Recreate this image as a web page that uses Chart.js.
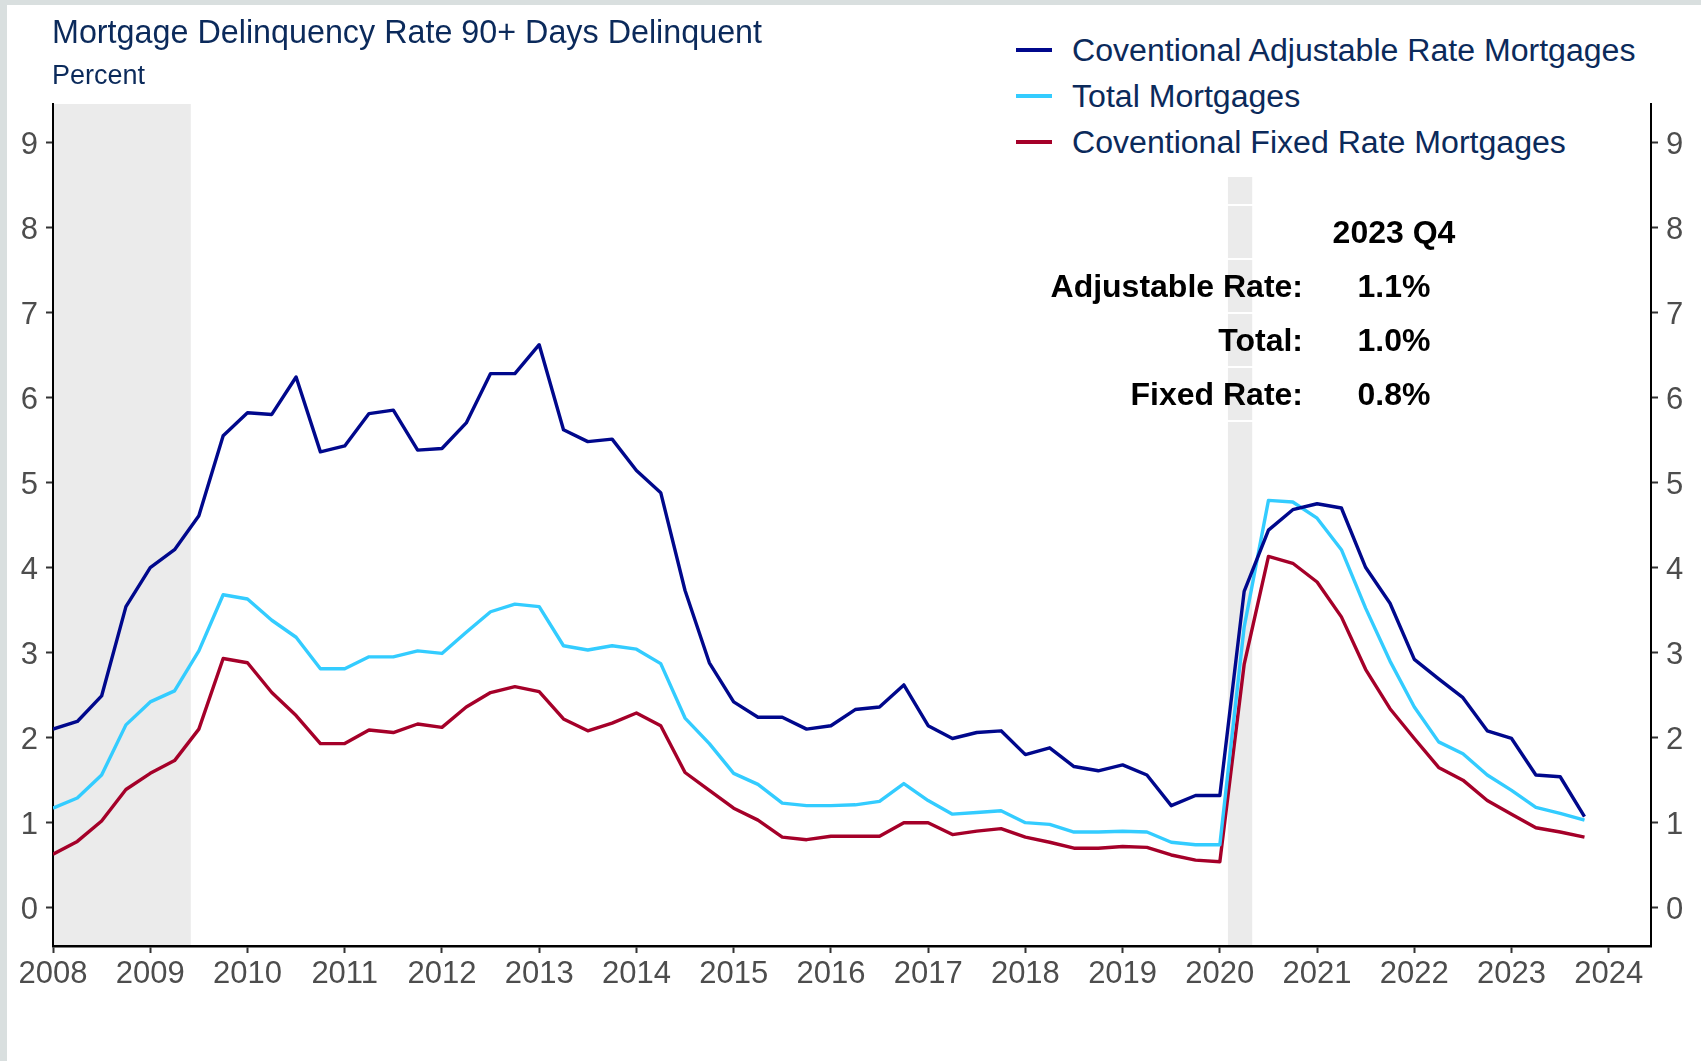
<!DOCTYPE html>
<html lang="en">
<head>
<meta charset="utf-8">
<title>Mortgage Delinquency Rate 90+ Days Delinquent</title>
<script src="https://cdn.jsdelivr.net/npm/chart.js@4.4.1/dist/chart.umd.min.js"></script>
<style>
  html, body { margin: 0; padding: 0; }
  body {
    width: 1701px; height: 1061px; overflow: hidden; position: relative;
    background: #d9dfdf;
    font-family: "Liberation Sans", Arial, sans-serif;
  }
  #panel { position: absolute; left: 7px; top: 5px; right: 0; bottom: 0; background: #fff; }
  #chart { position: absolute; left: 0; top: 0; }
  .title { position: absolute; left: 52px; top: 16px; font-size: 32.3px; line-height: 32px; color: #0b2a5b; white-space: nowrap; }
  .subtitle { position: absolute; left: 52px; top: 62px; font-size: 27px; line-height: 27px; color: #0b2a5b; white-space: nowrap; }
  #legend { position: absolute; left: 1000px; top: 5px; width: 650px; height: 172px; background: #fff; }
  .leg-row { position: absolute; left: 16px; height: 32px; font-size: 32.1px; line-height: 32px; color: #0b2a5b; white-space: nowrap; }
  .leg-key { position: absolute; left: 0; top: 14px; width: 36px; height: 4px; }
  .leg-text { position: absolute; left: 56px; top: 0; }
  #note { position: absolute; left: 1000px; top: 204px; width: 500px; }
  .note-row {
    position: absolute; left: 0; width: 500px; height: 54px; box-sizing: border-box;
    border-top: 2px solid #fff;
    font-weight: bold; font-size: 32px; line-height: 52px; color: #000; white-space: nowrap;
  }
  .note-row.last { height: 56px; border-bottom: 2px solid #fff; }
  .lab { position: absolute; left: 0; width: 303px; text-align: right; }
  .val { position: absolute; left: 303px; width: 182px; text-align: center; }
</style>
</head>
<body>
<div id="panel"></div>
<canvas id="chart" width="1701" height="1061"></canvas>
<div class="title">Mortgage Delinquency Rate 90+ Days Delinquent</div>
<div class="subtitle">Percent</div>
<div id="legend"></div>
<div id="note"></div>

<script>
// quarterly observations, 2008 Q1 - 2023 Q4
const quarters = [
  '2008 Q1', '2008 Q2', '2008 Q3', '2008 Q4',
  '2009 Q1', '2009 Q2', '2009 Q3', '2009 Q4',
  '2010 Q1', '2010 Q2', '2010 Q3', '2010 Q4',
  '2011 Q1', '2011 Q2', '2011 Q3', '2011 Q4',
  '2012 Q1', '2012 Q2', '2012 Q3', '2012 Q4',
  '2013 Q1', '2013 Q2', '2013 Q3', '2013 Q4',
  '2014 Q1', '2014 Q2', '2014 Q3', '2014 Q4',
  '2015 Q1', '2015 Q2', '2015 Q3', '2015 Q4',
  '2016 Q1', '2016 Q2', '2016 Q3', '2016 Q4',
  '2017 Q1', '2017 Q2', '2017 Q3', '2017 Q4',
  '2018 Q1', '2018 Q2', '2018 Q3', '2018 Q4',
  '2019 Q1', '2019 Q2', '2019 Q3', '2019 Q4',
  '2020 Q1', '2020 Q2', '2020 Q3', '2020 Q4',
  '2021 Q1', '2021 Q2', '2021 Q3', '2021 Q4',
  '2022 Q1', '2022 Q2', '2022 Q3', '2022 Q4',
  '2023 Q1', '2023 Q2', '2023 Q3', '2023 Q4'
];

const adjustableRate = [
  2.10, 2.19, 2.49, 3.54,  4.00, 4.21, 4.61, 5.55,
  5.82, 5.80, 6.24, 5.36,  5.43, 5.81, 5.85, 5.38,
  5.40, 5.70, 6.28, 6.28,  6.62, 5.62, 5.48, 5.51,
  5.14, 4.88, 3.73, 2.88,  2.42, 2.24, 2.24, 2.10,
  2.14, 2.33, 2.36, 2.62,  2.14, 1.99, 2.06, 2.08,
  1.80, 1.88, 1.66, 1.61,  1.68, 1.56, 1.20, 1.32,
  1.32, 3.72, 4.44, 4.68,  4.75, 4.70, 4.00, 3.58,
  2.92, 2.69, 2.47, 2.08,  1.99, 1.56, 1.54, 1.07
];

const totalMortgages = [
  1.17, 1.29, 1.56, 2.15,  2.42, 2.55, 3.02, 3.68,
  3.63, 3.38, 3.18, 2.81,  2.81, 2.95, 2.95, 3.02,
  2.99, 3.24, 3.48, 3.57,  3.54, 3.08, 3.03, 3.08,
  3.04, 2.87, 2.23, 1.93,  1.58, 1.45, 1.23, 1.20,
  1.20, 1.21, 1.25, 1.46,  1.26, 1.10, 1.12, 1.14,
  1.00, 0.98, 0.89, 0.89,  0.90, 0.89, 0.77, 0.74,
  0.74, 3.30, 4.79, 4.77,  4.58, 4.21, 3.52, 2.90,
  2.36, 1.95, 1.81, 1.56,  1.38, 1.18, 1.11, 1.03
];

const fixedRate = [
  0.63, 0.78, 1.02, 1.39,  1.58, 1.73, 2.10, 2.93,
  2.88, 2.53, 2.26, 1.93,  1.93, 2.09, 2.06, 2.16,
  2.12, 2.36, 2.53, 2.60,  2.54, 2.22, 2.08, 2.17,
  2.29, 2.14, 1.59, 1.38,  1.17, 1.03, 0.83, 0.80,
  0.84, 0.84, 0.84, 1.00,  1.00, 0.86, 0.90, 0.93,
  0.83, 0.77, 0.70, 0.70,  0.72, 0.71, 0.62, 0.56,
  0.54, 2.86, 4.13, 4.05,  3.83, 3.42, 2.80, 2.34,
  1.99, 1.65, 1.50, 1.26,  1.10, 0.94, 0.89, 0.83
];

const seriesNames = ['Coventional Adjustable Rate Mortgages', 'Total Mortgages', 'Coventional Fixed Rate Mortgages'];
const seriesColors = ['#00088c', '#33ccff', '#a50029'];

// NBER recessions, in decimal years
const recessions = [[2007.917, 2009.417], [2020.083, 2020.333]];

const yearTicks = [2008, 2024.434];   // x axis range
const pctRange = [-0.45, 9.45];        // y axis range

const noteTitle = '2023 Q4';
const noteLabels = ['Adjustable Rate:', 'Total:', 'Fixed Rate:'];
const noteValues = ['1.1%', '1.0%', '0.8%'];

const FONT = "'Liberation Sans', Arial, sans-serif";

// "2008 Q3" -> 2008.5
function quarterToYear(q) {
  const year = parseInt(q.slice(0, 4), 10);
  const qn = parseInt(q.slice(-1), 10);
  return year + (qn - 1) / 4;
}

function toPoints(values) {
  return values.map((v, i) => ({ x: quarterToYear(quarters[i]), y: v }));
}

// legend (html)
const legendBox = document.getElementById('legend');
seriesNames.forEach((name, i) => {
  const row = document.createElement('div');
  row.className = 'leg-row';
  row.style.top = (29 + i * 46) + 'px';
  row.innerHTML = `<div class="leg-key" style="background:${seriesColors[i]}"></div><div class="leg-text">${name}</div>`;
  legendBox.appendChild(row);
});

// latest-values note
const note = document.getElementById('note');
const rows = [['', noteTitle]].concat(noteLabels.map((l, i) => [l, noteValues[i]]));
rows.forEach(([lab, val], i) => {
  const r = document.createElement('div');
  r.className = 'note-row' + (i === rows.length - 1 ? ' last' : '');
  r.style.top = (i * 54) + 'px';
  r.innerHTML = `<span class="lab">${lab}</span><span class="val">${val}</span>`;
  note.appendChild(r);
});

// grey recession bars, under the axes and lines
const recessionShading = {
  id: 'recessionShading',
  beforeDraw(chart) {
    const { ctx, chartArea, scales } = chart;
    ctx.save();
    ctx.fillStyle = '#ebebeb';
    recessions.forEach(([a, b]) => {
      const x1 = Math.max(scales.x.getPixelForValue(a), chartArea.left);
      const x2 = Math.min(scales.x.getPixelForValue(b), chartArea.right);
      ctx.fillRect(x1, chartArea.top, x2 - x1, chartArea.bottom - chartArea.top);
    });
    ctx.restore();
  }
};

const tickFont = { family: FONT, size: 31 };

function yAxis(position, width) {
  return {
    type: 'linear',
    position: position,
    min: pctRange[0],
    max: pctRange[1],
    grid: { display: true, drawOnChartArea: false, drawTicks: true, tickLength: 7, tickWidth: 2, tickColor: '#333' },
    border: { display: true, color: '#000', width: 2 },
    ticks: {
      stepSize: 1,
      includeBounds: false,
      padding: 8,
      labelOffset: 3,
      color: '#4d4d4d',
      font: tickFont,
      callback: v => String(v)
    },
    afterFit(scale) { scale.width = width; }
  };
}

new Chart(document.getElementById('chart').getContext('2d'), {
  type: 'line',
  data: {
    datasets: [adjustableRate, totalMortgages, fixedRate].map((vals, i) => ({
      label: seriesNames[i],
      data: toPoints(vals),
      borderColor: seriesColors[i],
      backgroundColor: seriesColors[i],
      borderWidth: 3.4,
      borderJoinStyle: 'round',
      pointRadius: 0,
      tension: 0,
      yAxisID: 'y'
    }))
  },
  options: {
    responsive: false,
    animation: false,
    layout: { padding: { top: 104, bottom: 55, left: 0, right: 0 } },
    plugins: {
      legend: { display: false },
      tooltip: { enabled: false }
    },
    scales: {
      x: {
        type: 'linear',
        min: yearTicks[0],
        max: yearTicks[1],
        grid: { display: true, drawOnChartArea: false, drawTicks: true, tickLength: 7, tickWidth: 2, tickColor: '#333' },
        border: { display: true, color: '#000', width: 2.5 },
        ticks: {
          stepSize: 1,
          includeBounds: false,
          autoSkip: false,
          maxRotation: 0,
          padding: 3,
          color: '#4d4d4d',
          font: tickFont,
          callback: v => String(v)
        },
        afterFit(scale) { scale.height = 60; }
      },
      y: yAxis('left', 53),
      y2: yAxis('right', 50)
    }
  },
  plugins: [recessionShading]
});
</script>
</body>
</html>
